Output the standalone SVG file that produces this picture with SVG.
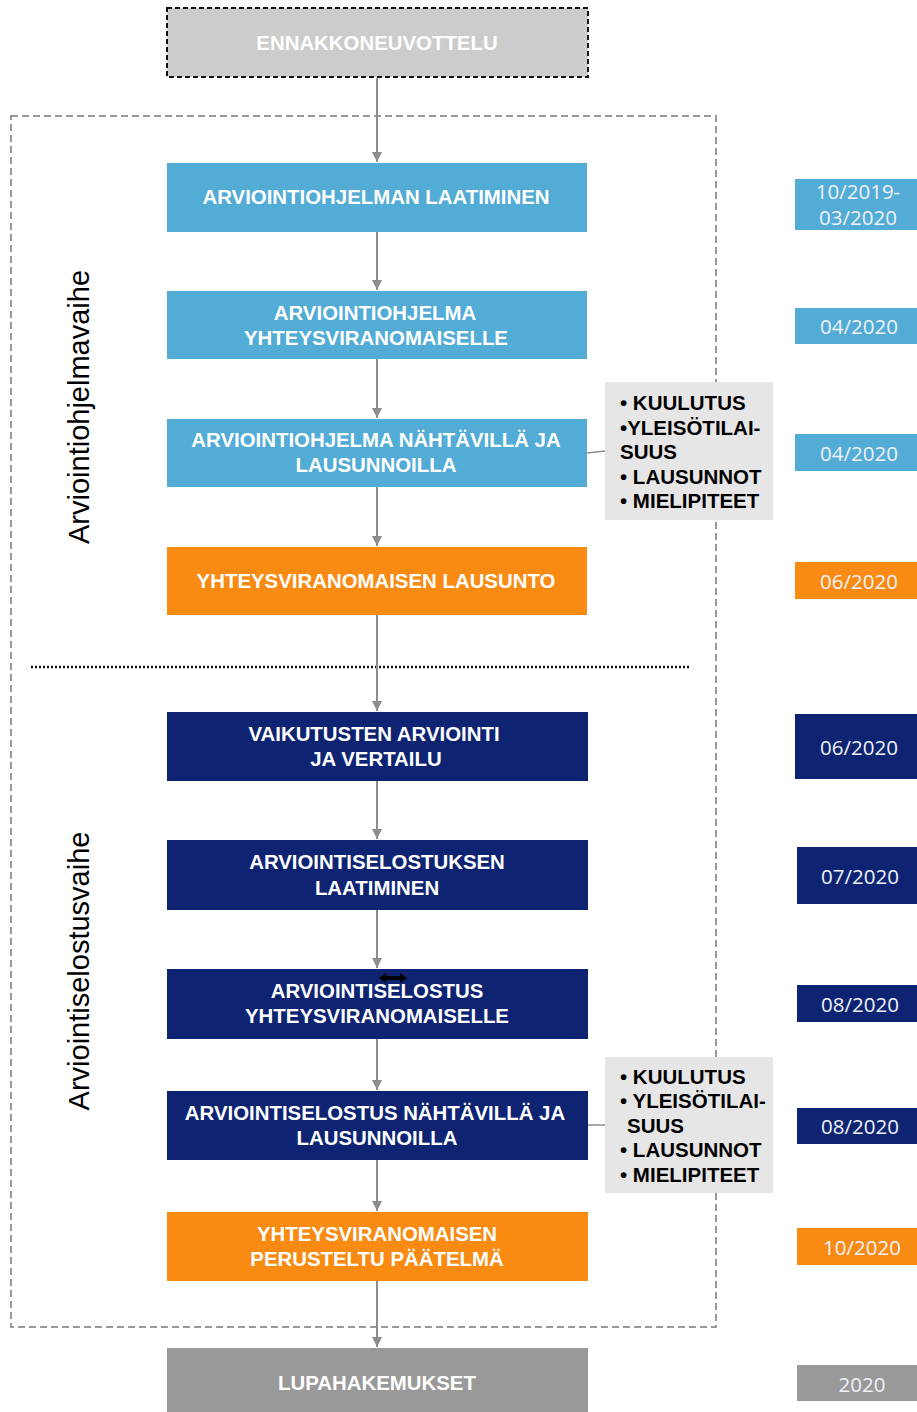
<svg xmlns="http://www.w3.org/2000/svg" width="917" height="1412" viewBox="0 0 917 1412">
<defs>
<marker id="ah" viewBox="0 0 10 10" refX="10" refY="5" markerWidth="5" markerHeight="5" orient="auto" markerUnits="strokeWidth">
<path d="M0,0 L10,5 L0,10 z" fill="#8c8c8c"/>
</marker>
<style>
.lt{fill:#52acd6}
.or{fill:#f98a12}
.nv{fill:#0e2472}
.gr{fill:#999999}
.nt{font-family:"Liberation Sans",Arial,sans-serif;font-weight:bold;font-size:20.4px;fill:#ffffff;text-anchor:middle}
.dt{font-family:"Open Sans","Noto Sans",sans-serif;font-size:20.5px;fill:#eef2f8;text-anchor:middle}
.side{fill:#e6e6e6}
.st{font-family:"Liberation Sans",Arial,sans-serif;font-weight:bold;font-size:20.5px;fill:#000000}
.vl{font-family:"Liberation Sans",Arial,sans-serif;font-size:29px;fill:#000000;text-anchor:middle}
.conn{stroke:#8c8c8c;stroke-width:2;fill:none}
</style>
</defs>
<rect x="11" y="116" width="705" height="1211" fill="none" stroke="#999999" stroke-width="2" stroke-dasharray="7,4"/>
<line x1="31" y1="667" x2="690" y2="667" stroke="#111" stroke-width="2.5" stroke-dasharray="2,2"/>
<text class="vl" transform="translate(89,407) rotate(-90)">Arviointiohjelmavaihe</text>
<text class="vl" transform="translate(89,971) rotate(-90)">Arviointiselostusvaihe</text>
<g id="connectors">
<line class="conn" x1="377" y1="78" x2="377" y2="162" marker-end="url(#ah)"/>
<line class="conn" x1="377" y1="232" x2="377" y2="290" marker-end="url(#ah)"/>
<line class="conn" x1="377" y1="359" x2="377" y2="418" marker-end="url(#ah)"/>
<line class="conn" x1="377" y1="487" x2="377" y2="546" marker-end="url(#ah)"/>
<line class="conn" x1="377" y1="615" x2="377" y2="711" marker-end="url(#ah)"/>
<line class="conn" x1="377" y1="781" x2="377" y2="839" marker-end="url(#ah)"/>
<line class="conn" x1="377" y1="910" x2="377" y2="968" marker-end="url(#ah)"/>
<line class="conn" x1="377" y1="1039" x2="377" y2="1090" marker-end="url(#ah)"/>
<line class="conn" x1="377" y1="1160" x2="377" y2="1211" marker-end="url(#ah)"/>
<line class="conn" x1="377" y1="1281" x2="377" y2="1347" marker-end="url(#ah)"/>
<line x1="587" y1="453" x2="605" y2="451" stroke="#8c8c8c" stroke-width="1.5"/>
<line x1="588" y1="1125" x2="605" y2="1125" stroke="#8c8c8c" stroke-width="1.5"/>
</g>
<g id="n0">
<rect x="167" y="8" width="421" height="69" fill="#cccccc" stroke="#111" stroke-width="2" stroke-dasharray="5,3"/>
<text class="nt" x="377" y="50">ENNAKKONEUVOTTELU</text>
</g>
<g id="n1">
<rect class="lt" x="167" y="163" width="420" height="69"/>
<text class="nt" x="376" y="204">ARVIOINTIOHJELMAN LAATIMINEN</text>
</g>
<g id="n2">
<rect class="lt" x="167" y="291" width="420" height="68"/>
<text class="nt" x="375" y="320">ARVIOINTIOHJELMA</text>
<text class="nt" x="376" y="345">YHTEYSVIRANOMAISELLE</text>
</g>
<g id="n3">
<rect class="lt" x="167" y="419" width="420" height="68"/>
<text class="nt" x="376" y="447">ARVIOINTIOHJELMA NÄHTÄVILLÄ JA</text>
<text class="nt" x="376" y="472">LAUSUNNOILLA</text>
</g>
<g id="n4">
<rect class="or" x="167" y="547" width="420" height="68"/>
<text class="nt" x="376" y="588">YHTEYSVIRANOMAISEN LAUSUNTO</text>
</g>
<g id="n5">
<rect class="nv" x="167" y="712" width="421" height="69"/>
<text class="nt" x="374" y="741">VAIKUTUSTEN ARVIOINTI</text>
<text class="nt" x="376" y="766">JA VERTAILU</text>
</g>
<g id="n6">
<rect class="nv" x="167" y="840" width="421" height="70"/>
<text class="nt" x="377" y="869">ARVIOINTISELOSTUKSEN</text>
<text class="nt" x="377" y="895">LAATIMINEN</text>
</g>
<g id="n7">
<rect class="nv" x="167" y="969" width="421" height="70"/>
<text class="nt" x="377" y="998">ARVIOINTISELOSTUS</text>
<text class="nt" x="377" y="1023">YHTEYSVIRANOMAISELLE</text>
<path d="M379,978 L386,973 L386,976 L400,976 L400,973 L407,978 L400,983 L400,980 L386,980 L386,983 z" fill="#000"/>
</g>
<g id="n8">
<rect class="nv" x="167" y="1091" width="421" height="69"/>
<text class="nt" x="375" y="1120">ARVIOINTISELOSTUS NÄHTÄVILLÄ JA</text>
<text class="nt" x="377" y="1145">LAUSUNNOILLA</text>
</g>
<g id="n9">
<rect class="or" x="167" y="1212" width="421" height="69"/>
<text class="nt" x="377" y="1241">YHTEYSVIRANOMAISEN</text>
<text class="nt" x="377" y="1266">PERUSTELTU PÄÄTELMÄ</text>
</g>
<g id="n10">
<rect class="gr" x="167" y="1348" width="421" height="64"/>
<text class="nt" x="377" y="1390">LUPAHAKEMUKSET</text>
</g>
<g id="side1">
<rect class="side" x="605" y="382" width="168" height="138"/>
<text class="st" x="620" y="410">• KUULUTUS</text>
<text class="st" x="620" y="435">•YLEISÖTILAI-</text>
<text class="st" x="620" y="459">SUUS</text>
<text class="st" x="620" y="484">• LAUSUNNOT</text>
<text class="st" x="620" y="508">• MIELIPITEET</text>
</g>
<g id="side2">
<rect class="side" x="605" y="1057" width="168" height="136"/>
<text class="st" x="620" y="1084">• KUULUTUS</text>
<text class="st" x="620" y="1108">• YLEISÖTILAI-</text>
<text class="st" x="627" y="1133">SUUS</text>
<text class="st" x="620" y="1157">• LAUSUNNOT</text>
<text class="st" x="620" y="1182">• MIELIPITEET</text>
</g>
<g id="d1">
<rect class="lt" x="795" y="179" width="122" height="51"/>
<text class="dt" x="858" y="199">10/2019-</text>
<text class="dt" x="858" y="225">03/2020</text>
</g>
<g id="d2">
<rect class="lt" x="795" y="308" width="122" height="36"/>
<text class="dt" x="859" y="334">04/2020</text>
</g>
<g id="d3">
<rect class="lt" x="795" y="434" width="122" height="37"/>
<text class="dt" x="859" y="461">04/2020</text>
</g>
<g id="d4">
<rect class="or" x="795" y="562" width="122" height="37"/>
<text class="dt" x="859" y="589">06/2020</text>
</g>
<g id="d5">
<rect class="nv" x="795" y="714" width="122" height="65"/>
<text class="dt" x="859" y="755">06/2020</text>
</g>
<g id="d6">
<rect class="nv" x="797" y="847" width="120" height="57"/>
<text class="dt" x="860" y="884">07/2020</text>
</g>
<g id="d7">
<rect class="nv" x="797" y="985" width="120" height="37"/>
<text class="dt" x="860" y="1012">08/2020</text>
</g>
<g id="d8">
<rect class="nv" x="797" y="1108" width="120" height="36"/>
<text class="dt" x="860" y="1134">08/2020</text>
</g>
<g id="d9">
<rect class="or" x="797" y="1228" width="120" height="37"/>
<text class="dt" x="862" y="1255">10/2020</text>
</g>
<g id="d10">
<rect class="gr" x="797" y="1365" width="120" height="36"/>
<text class="dt" x="862" y="1392">2020</text>
</g>
</svg>
